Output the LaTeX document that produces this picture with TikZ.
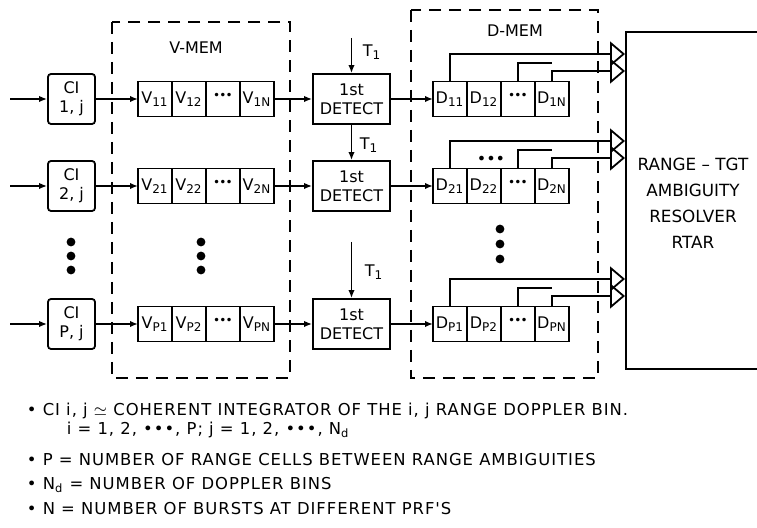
\documentclass[tikz,border=0pt]{standalone}
\usepackage{fontspec}
\setmainfont{DejaVu Sans}
\newfontfamily\notefont[LetterSpace=6]{DejaVu Sans}
\usetikzlibrary{positioning,arrows.meta,calc}
\newcommand\lowsub[1]{\textsubscript{#1}}
\newcommand\tridots{\raisebox{3pt}{\fontsize{6}{6}\selectfont •\kern-0.4pt•\kern-0.4pt•}}

\begin{document}
\begin{tikzpicture}[
    x=0.5pt, y=-0.5pt,
    line width=0.9pt,
    lbl/.style={font=\fontsize{8}{9.5}\selectfont},
    cibox/.style={rectangle, draw, rounded corners=1.5pt, minimum width=23.5pt, minimum height=25pt, inner sep=1pt, align=center, lbl},
    cell/.style={rectangle, draw, minimum width=17pt, minimum height=17.5pt, inner sep=0pt, outer sep=0pt, lbl},
    detbox/.style={rectangle, draw, minimum width=38.5pt, minimum height=25pt, inner sep=1pt, align=center, lbl},
    memframe/.style={draw, dash pattern=on 6pt off 4pt},
    sig/.style={-{Latex[length=4pt,width=3.2pt]}},
    fb/.style={-{Triangle[open,length=7.5pt,width=12.5pt]}},
    note/.style={anchor=west, inner sep=0pt, font=\notefont\fontsize{8.2}{9}\selectfont}
]
\clip (0,0) rectangle (757,528);

% memory frames
\draw[memframe] (112,22) rectangle (290,378);
\node[lbl] (vmemlab) at (196,48) {V-MEM};
\draw[memframe] (411,10) rectangle (598,378);
\node[lbl] (dmemlab) at (515,31) {D-MEM};

% resolver
\node[draw, anchor=north west, minimum width=82.5pt, minimum height=168.5pt, inner sep=0pt] (rtar) at (625,31) {};
\node[lbl, align=center, font=\fontsize{8.4}{13}\selectfont] (rtartext) at (693,203) {RANGE – TGT\\AMBIGUITY\\RESOLVER\\RTAR};

% one row per range cell
\foreach \rw/\y in {1/99, 2/186, P/324}{
  \coordinate (in\rw) at (10,\y);
  \node[cibox] (ci\rw) at (71.5,\y) {CI\\\rw, j};
  \node[cell] (V\rw1) at (155,\y) {V\lowsub{\rw1}};
  \node[cell, right=0pt of V\rw1] (V\rw2) {V\lowsub{\rw2}};
  \node[cell, right=0pt of V\rw2] (V\rw3) {\tridots};
  \node[cell, right=0pt of V\rw3] (V\rw4) {V\lowsub{\rw N}};
  \node[detbox] (det\rw) at (351.5,\y) {1st\\DETECT};
  \node[cell] (D\rw1) at (450,\y) {D\lowsub{\rw1}};
  \node[cell, right=0pt of D\rw1] (D\rw2) {D\lowsub{\rw2}};
  \node[cell, right=0pt of D\rw2] (D\rw3) {\tridots};
  \node[cell, right=0pt of D\rw3] (D\rw4) {D\lowsub{\rw N}};
  \draw[sig] (in\rw) -- (ci\rw);
  \draw[sig] (ci\rw) -- (V\rw1);
  \draw[sig] (V\rw4) -- (det\rw);
  \draw[sig] (det\rw) -- (D\rw1);
  % feedback to resolver
  \coordinate (ra\rw) at (625,\y-45);
  \coordinate (st\rw) at (552,\y-36);
  \coordinate (rb\rw) at (625,\y-28);
  \draw[fb] (D\rw1.north) |- (ra\rw);
  \draw (D\rw3.north) |- (st\rw);
  \draw[fb] (D\rw4.north) |- (rb\rw);
}
\node[lbl] (dmore) at (491,160) {•••};

% thresholds
\coordinate (tin1) at (351.5,38);
\coordinate (tinP) at (351.5,242);
\draw[sig] (tin1) -- (det1.north);
\draw[sig] (det1.south) -- (det2.north);
\draw[sig] (tinP) -- (detP.north);
\node[lbl] (tlab1) at (372,52) {T\lowsub{1}};
\node[lbl] (tlab2) at (369,145) {T\lowsub{1}};
\node[lbl] (tlabP) at (374,272) {T\lowsub{1}};

% more rows
\foreach \yy in {242,256,270}{
  \fill (71,\yy) circle (2.2pt);
  \fill (201,\yy) circle (2.2pt);
}
\foreach \yy in {229,244,259}
  \fill (500,\yy) circle (2.2pt);

% legend
\node[note] (n1) at (26,411) {•\ CI i, j $\simeq$ COHERENT INTEGRATOR OF THE i, j RANGE DOPPLER BIN.};
\node[note] (n2) at (66,430) {i = 1, 2, •••, P; j = 1, 2, •••, N\lowsub{d}};
\node[note] (n3) at (26,460) {•\ P = NUMBER OF RANGE CELLS BETWEEN RANGE AMBIGUITIES};
\node[note] (n4) at (26,485) {•\ N\lowsub{d} = NUMBER OF DOPPLER BINS};
\node[note] (n5) at (26,509) {•\ N = NUMBER OF BURSTS AT DIFFERENT PRF'S};
\end{tikzpicture}
\end{document}
